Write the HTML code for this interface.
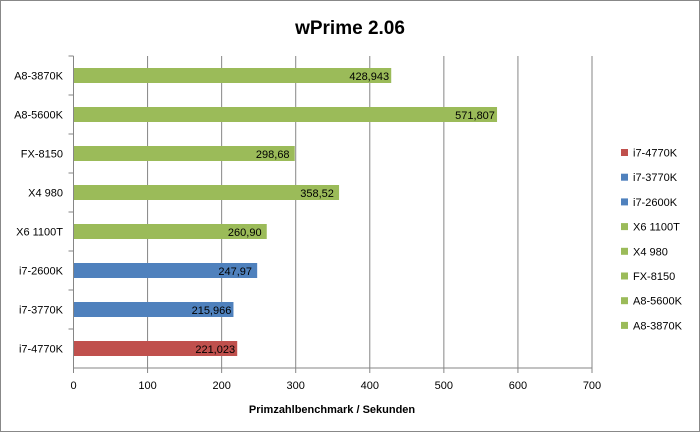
<!DOCTYPE html>
<html><head><meta charset="utf-8"><style>
body{margin:0;background:#fff;font-family:"Liberation Sans",sans-serif}
#c{position:absolute;left:0;top:0;width:700px;height:432px}
</style></head><body>
<svg id="c" width="700" height="432" xmlns="http://www.w3.org/2000/svg">
<rect x="0.5" y="0.5" width="699" height="431" fill="#fff" stroke="#888"/>
<text x="350" y="34" text-anchor="middle" font-size="19" font-weight="bold">wPrime 2.06</text>
<g id="grid"></g><g id="bars"></g><g id="axes"></g><g id="legend"></g>
<text x="332" y="413" text-anchor="middle" font-size="11" font-weight="bold">Primzahlbenchmark  / Sekunden</text>
</svg>
<script>
const categories=["A8-3870K","A8-5600K","FX-8150","X4 980","X6 1100T","i7-2600K","i7-3770K","i7-4770K"];
const values=[428.943,571.807,298.68,358.52,260.90,247.97,215.966,221.023];
const labels=["428,943","571,807","298,68","358,52","260,90","247,97","215,966","221,023"];
const colors=["#9bbb59","#9bbb59","#9bbb59","#9bbb59","#9bbb59","#4f81bd","#4f81bd","#c0504d"];
const ticks=[0,100,200,300,400,500,600,700];
const NS="http://www.w3.org/2000/svg";
const x0=73.5,x1=592,y0=56,y1=368,xmax=700;
const xs=v=>x0+(x1-x0)*v/xmax;
const band=(y1-y0)/categories.length;
function mk(t,a,p){const e=document.createElementNS(NS,t);for(const k in a)e.setAttribute(k,a[k]);p.appendChild(e);return e;}
const G=document.getElementById('grid'),B=document.getElementById('bars'),A=document.getElementById('axes'),L=document.getElementById('legend');
ticks.forEach(t=>{
 if(t>0){const l=mk('line',{x1:xs(t),x2:xs(t),y1:y0,y2:y1,stroke:'#868686'},G);
 
 }
 const tl=mk('line',{x1:xs(t),x2:xs(t),y1:y1,y2:y1+5,stroke:'#868686'},A);
 
 
 const tx=mk('text',{x:xs(t),y:y1+21,'text-anchor':'middle','font-size':11},A);tx.textContent=t;
 
 
});
categories.forEach((c,i)=>{
 const cy=y0+band*(i+0.5);
 const r=mk('rect',{x:x0,y:cy-7.5,width:xs(values[i])-x0,height:15,fill:colors[i]},B);
 
 
 const v=mk('text',{x:xs(values[i])-22,y:cy+4.5,'text-anchor':'middle','font-size':11},B);v.textContent=labels[i];
 
 
 const t=mk('text',{x:63,y:cy+4,'text-anchor':'end','font-size':11},A);t.textContent=c;
 
 
 const tk=mk('line',{x1:x0-5,x2:x0,y1:y0+band*i,y2:y0+band*i,stroke:'#868686'},A);
 
 
});
const ax=mk('line',{x1:x0,x2:x0,y1:y0,y2:y1,stroke:'#868686'},A);


const bx=mk('line',{x1:x0,x2:x1,y1:y1,y2:y1,stroke:'#868686'},A);


for(let j=0;j<categories.length;j++){
 const i=categories.length-1-j, ly=153+j*24.7;
 const g=mk('g',{},L);
 
 
 mk('rect',{x:621,y:ly-4,width:7,height:7,fill:colors[i]},g);
 const t=mk('text',{x:633,y:ly+3.5,'font-size':11},g);t.textContent=categories[i];
}
</script>
</body></html>
